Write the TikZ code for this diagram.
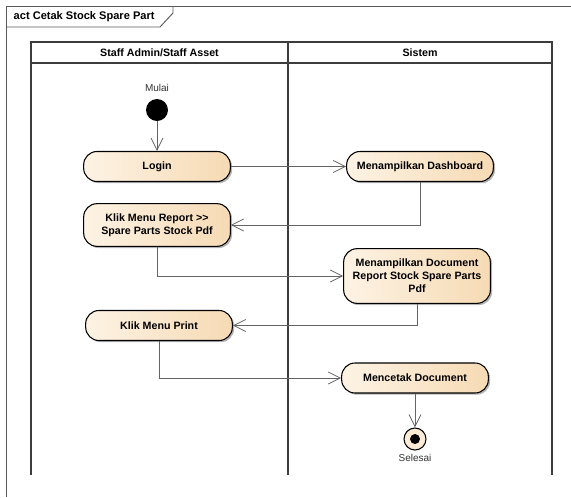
\documentclass[tikz,border=0pt]{standalone}
\usepackage{fontspec}
\setmainfont{Liberation Sans}[Ligatures=TeXOff]
\usetikzlibrary{arrows.meta,shadows}

\definecolor{actlight}{RGB}{253,243,228}
\definecolor{actdark}{RGB}{246,218,180}
\definecolor{endfill}{RGB}{252,236,214}
\definecolor{flowgray}{RGB}{100,100,100}
\definecolor{lanegray}{RGB}{60,60,60}
\definecolor{framegray}{RGB}{90,90,90}

\tikzset{
  action/.style={draw=black, line width=0.8pt, rounded corners=10pt,
    left color=actlight, right color=actdark,
    drop shadow={shadow xshift=1.3pt, shadow yshift=-1.3pt, fill=black!50, opacity=0.6},
    minimum width=110pt, minimum height=22.5pt, inner ysep=4pt,
    align=center, font=\fontsize{8}{9.8}\selectfont\bfseries},
  flow/.style={draw=flowgray, line width=0.6pt,
    -{Straight Barb[length=9pt,width=9pt,line width=0.6pt]}},
  lane/.style={draw=lanegray, line width=1.1pt},
  lanehead/.style={font=\fontsize{8}{9.8}\selectfont\bfseries},
  plainlabel/.style={font=\fontsize{7.5}{9}\selectfont, text=black!80},
}

\begin{document}
\begin{tikzpicture}[x=0.75pt,y=0.75pt,yscale=-1]
\useasboundingbox (0,0) rectangle (571,497);

%Frame
\draw [framegray, line width=0.7pt] (6,497) -- (6,6) -- (571,6) ;
\draw [framegray, line width=0.7pt] (6,27) -- (160,27) -- (173,13) -- (173,6) ;
% Text Node
\node [anchor=west, lanehead, font=\fontsize{8.3}{10}\selectfont\bfseries] (title) at (9,16.5) {act Cetak Stock Spare Part};

%Swimlanes
\draw [lane] (31,475) -- (31,42) -- (552,42) -- (552,475) ;
\draw [lane] (31,63) -- (552,63) ;
\draw [lane] (288,42) -- (288,475) ;
% Text Node
\node [lanehead] (laneStaff) at (159.5,52.5) {Staff Admin/Staff Asset};
% Text Node
\node [lanehead] (laneSistem) at (420,52.5) {Sistem};

%Start
\node [circle, fill=black, minimum size=16.5pt, inner sep=0pt] (start) at (157,110) {};
\node [plainlabel] (startLabel) at (157,88) {Mulai};

%Actions
\node [action] (login) at (157,166.5) {Login};
\node [action] (dash) at (420,166.5) {Menampilkan Dashboard};
\node [action, minimum height=32pt] (report) at (157,225) {Klik Menu Report >>\\Spare Parts Stock Pdf};
\node [action, minimum height=41pt] (doc) at (417,276) {Menampilkan Document\\Report Stock Spare Parts\\Pdf};
\node [action] (print) at (159,325.5) {Klik Menu Print};
\node [action] (cetak) at (415,378) {Mencetak Document};

%End
\node [circle, draw=black, line width=0.8pt, fill=endfill, minimum size=16.5pt, inner sep=0pt] (end) at (415,439) {};
\node [circle, fill=black, minimum size=7.5pt, inner sep=0pt] (endDot) at (end) {};
\node [plainlabel] (endLabel) at (415,458) {Selesai};

%Flows
\draw [flow] (start) -- (login) ;
\draw [flow] (login) -- (dash) ;
\draw [flow] (dash) |- (report) ;
\draw [flow] (report) |- (doc) ;
\draw [flow] (doc) |- (print) ;
\draw [flow] (print) |- (cetak) ;
\draw [flow] (cetak) -- (end) ;

\end{tikzpicture}
\end{document}
